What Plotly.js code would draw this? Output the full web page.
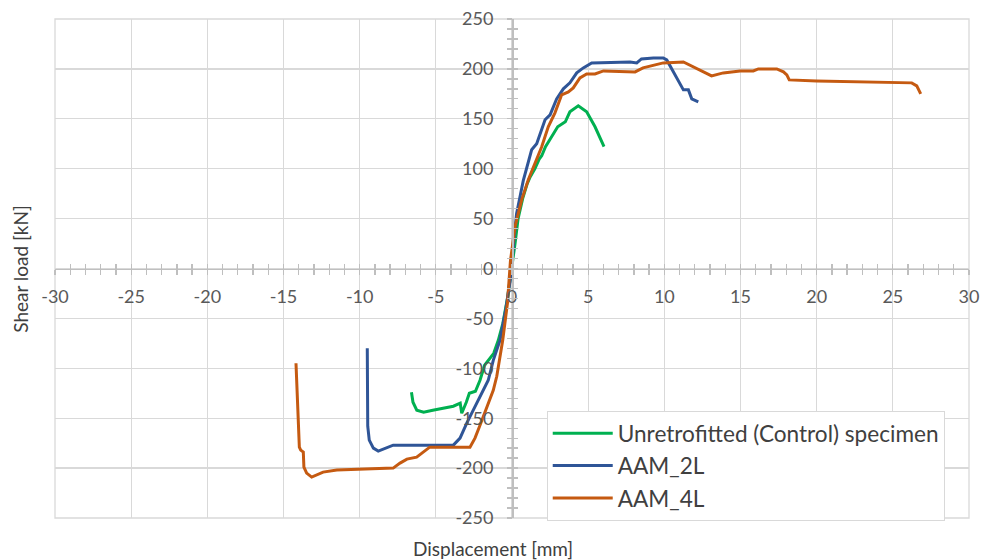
<!DOCTYPE html>
<html>
<head>
<meta charset="utf-8">
<script src="https://cdn.plot.ly/plotly-3.0.1.min.js"></script>
<style>html,body{margin:0;padding:0;background:#fff;}#chart{width:983px;height:560px;}</style>
</head>
<body>
<div id="chart"></div>
<script>
// Unretrofitted (Control) specimen
const ctrlX = [-6.6,-6.5,-6.25,-5.8,-5.2,-4.5,-3.85,-3.4,-3.3,-3.0,-2.8,-2.4,-2.1,-1.8,-1.2,-0.9,-0.6,-0.3,0,0.2,0.4,0.7,1.0,1.2,1.5,1.8,1.95,2.2,2.6,3.0,3.5,3.8,4.35,4.9,5.45,6.04];
const ctrlY = [-124,-134,-142,-144,-142,-140,-138,-135,-145,-134,-125,-123,-112,-97,-85,-72,-55,-30,0,25,50,70,85,92,100,110,113,122,132,142,147,157,163,157,142,122];
// AAM_2L
const l2X = [-9.5,-9.47,-9.37,-9.1,-8.78,-7.8,-3.85,-3.41,-2.97,-2.54,-2.1,-1.56,-1.23,-0.79,-0.4,-0.1,0,0.1,0.3,0.74,1.29,1.62,2.17,2.5,2.93,3.37,3.8,4.25,4.68,5.23,7.75,8.19,8.5,9.28,9.93,10.16,11.25,11.58,11.8,12.23];
const l2Y = [-80,-158,-172,-180,-183,-177,-177,-170,-155,-142,-128,-112,-92,-72,-40,-10,5,25,55,88,119,125,149,154,170,180,186,196,201,206,207,206,210,211,211,209,179,179,170,167];
// AAM_4L
const l4X = [-14.18,-13.96,-13.87,-13.7,-13.66,-13.48,-13.15,-12.4,-11.5,-7.8,-7.35,-6.9,-6.26,-5.82,-5.4,-2.76,-2.43,-2.1,-1.56,-1.23,-1.0,-0.83,-0.61,-0.3,-0.1,0.2,0.64,1.07,1.5,1.95,2.38,2.82,3.26,3.7,4.02,4.46,4.9,5.45,6.0,8.08,8.6,9.93,11.25,13.1,13.87,14.3,14.97,15.84,16.17,17.38,17.82,18.04,18.2,20.0,25.04,26.24,26.57,26.83];
const l4Y = [-95,-179,-182,-184,-199,-205,-209,-204,-202,-200,-195,-191,-189,-184,-179,-179,-170,-157,-134,-122,-108,-92,-72,-35,8,42,69,89,105,122,142,156,174,177,181,191,195,195,198,197,201,206,207,193,196,197,198,198,200,200,197,194,189,188,186,186,183,175];

const seriesNames = ['Unretrofitted (Control) specimen','AAM_2L','AAM_4L'];
const seriesColors = ['#00b050','#2f5597','#c55a11'];

const xTicks = [-30,-25,-20,-15,-10,-5,0,5,10,15,20,25,30];
const yTicks = [-250,-200,-150,-100,-50,0,50,100,150,200,250];

const FONT = 'Lato, "Open Sans", sans-serif';
const GRID = '#d9d9d9';
const AXIS = '#bfbfbf';
const TXT = '#595959';

const traces = [
  {x: ctrlX, y: ctrlY},
  {x: l2X, y: l2Y},
  {x: l4X, y: l4Y}
].map((d, i) => ({
  x: d.x, y: d.y, type: 'scatter', mode: 'lines', name: seriesNames[i],
  line: {color: seriesColors[i], width: 3}, xaxis: 'x', yaxis: 'y'
}));
// overlay axes for crossing ticks
traces.push({x: [0], y: [0], xaxis: 'x2', yaxis: 'y2', mode: 'markers', marker: {opacity: 0}, showlegend: false, hoverinfo: 'skip'});

const layout = {
  width: 983, height: 560,
  margin: {l: 55, r: 14, t: 19, b: 42},
  paper_bgcolor: '#fff', plot_bgcolor: '#fff',
  font: {family: FONT, color: TXT, size: 18},
  showlegend: true,
  legend: {
    x: 0.538, y: 0.2144, xanchor: 'left', yanchor: 'top',
    bgcolor: '#fff', bordercolor: GRID, borderwidth: 1,
    font: {family: FONT, size: 22.6, color: '#404040'},
    tracegroupgap: 0, itemwidth: 60
  },
  xaxis: {
    range: [-30, 30], tickvals: xTicks, ticktext: xTicks.map(String),
    showgrid: true, gridcolor: GRID, gridwidth: 1.3, zeroline: false,
    showline: true, linecolor: AXIS, linewidth: 1.5,
    anchor: 'free', position: 0.5, side: 'bottom',
    ticks: 'outside', ticklen: 5, tickcolor: AXIS, tickwidth: 1.3,
    minor: {dtick: 1, tick0: 0, ticks: 'outside', ticklen: 5, tickcolor: AXIS, tickwidth: 1.3, showgrid: false},
    ticklabelstandoff: 6,
    tickfont: {family: FONT, size: 18, color: TXT}, fixedrange: true
  },
  yaxis: {
    range: [-250, 250], tickvals: yTicks, ticktext: yTicks.map(String),
    showgrid: true, gridcolor: GRID, gridwidth: 1.3, zeroline: false,
    showline: true, linecolor: AXIS, linewidth: 1.5,
    anchor: 'free', position: 0.5, side: 'left',
    ticks: 'outside', ticklen: 5, tickcolor: AXIS, tickwidth: 1.3,
    minor: {dtick: 10, tick0: 0, ticks: 'outside', ticklen: 5, tickcolor: AXIS, tickwidth: 1.3, showgrid: false},
    ticklabelstandoff: 10,
    tickfont: {family: FONT, size: 18, color: TXT}, fixedrange: true
  },
  xaxis2: {
    range: [-30, 30], overlaying: 'x', anchor: 'free', position: 0.5, side: 'bottom',
    showgrid: false, zeroline: false, showline: false, showticklabels: false,
    tickvals: xTicks, ticks: 'inside', ticklen: 5, tickcolor: AXIS, tickwidth: 1.3,
    minor: {dtick: 1, tick0: 0, ticks: 'inside', ticklen: 5, tickcolor: AXIS, tickwidth: 1.3, showgrid: false},
    fixedrange: true
  },
  yaxis2: {
    range: [-250, 250], overlaying: 'y', anchor: 'free', position: 0.5, side: 'left',
    showgrid: false, zeroline: false, showline: false, showticklabels: false,
    tickvals: yTicks, ticks: 'inside', ticklen: 5, tickcolor: AXIS, tickwidth: 1.3,
    minor: {dtick: 10, tick0: 0, ticks: 'inside', ticklen: 5, tickcolor: AXIS, tickwidth: 1.3, showgrid: false},
    fixedrange: true
  },
  shapes: [{type: 'rect', xref: 'paper', yref: 'paper', x0: 0, x1: 1, y0: 0, y1: 1,
            line: {color: GRID, width: 1.3}, layer: 'below'}],
  annotations: [
    {text: 'Displacement [mm]', xref: 'paper', yref: 'paper', x: 0.479, y: -0.062,
     xanchor: 'center', yanchor: 'middle', showarrow: false,
     font: {family: FONT, size: 19, color: '#404040'}},
    {text: 'Shear load [kN]', xref: 'paper', yref: 'paper', x: -0.038, y: 0.5,
     xanchor: 'center', yanchor: 'middle', showarrow: false, textangle: -90,
     font: {family: FONT, size: 19, color: '#404040'}}
  ]
};

Plotly.newPlot('chart', traces, layout, {displayModeBar: false, staticPlot: true});
</script>
</body>
</html>
